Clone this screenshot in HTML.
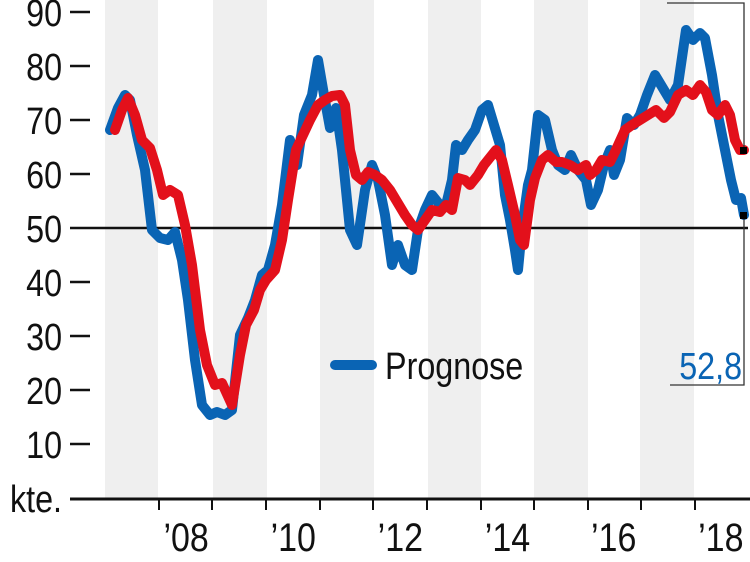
<!DOCTYPE html>
<html><head><meta charset="utf-8"><style>
html,body{margin:0;padding:0;background:#fff;}
svg{display:block;}
text{font-family:"Liberation Sans",sans-serif;fill:#111;}
</style></head><body>
<svg width="750" height="562" viewBox="0 0 750 562">
<g fill="#efefef">
<rect x="105" y="0" width="53" height="500"/>
<rect x="213" y="0" width="54" height="500"/>
<rect x="320" y="0" width="54" height="500"/>
<rect x="428" y="0" width="53" height="500"/>
<rect x="534" y="0" width="54" height="500"/>
<rect x="640" y="0" width="54" height="500"/>
</g>
<g font-size="38" text-anchor="end" transform="scale(0.85,1)">
<text x="73" y="26">90</text><text x="73" y="80">80</text><text x="73" y="134">70</text>
<text x="73" y="188">60</text><text x="73" y="242">50</text><text x="73" y="296">40</text>
<text x="73" y="350">30</text><text x="73" y="404">20</text><text x="73" y="458">10</text>
<text x="73" y="512">kte.</text>
</g>
<g stroke="#111" stroke-width="2.5">
<line x1="70" y1="12" x2="90" y2="12"/><line x1="70" y1="66" x2="90" y2="66"/>
<line x1="70" y1="120" x2="90" y2="120"/><line x1="70" y1="174" x2="90" y2="174"/>
<line x1="70" y1="282" x2="90" y2="282"/><line x1="70" y1="336" x2="90" y2="336"/>
<line x1="70" y1="390" x2="90" y2="390"/><line x1="70" y1="444" x2="90" y2="444"/>
<line x1="70" y1="228" x2="748" y2="228"/>
<line x1="70" y1="499" x2="750" y2="499" stroke-width="3"/>
</g>
<g stroke="#111" stroke-width="2">
<line x1="159" y1="499" x2="159" y2="510"/><line x1="212" y1="499" x2="212" y2="510"/>
<line x1="266" y1="499" x2="266" y2="510"/><line x1="320" y1="499" x2="320" y2="510"/>
<line x1="373" y1="499" x2="373" y2="510"/><line x1="427" y1="499" x2="427" y2="510"/>
<line x1="481" y1="499" x2="481" y2="510"/><line x1="534" y1="499" x2="534" y2="510"/>
<line x1="588" y1="499" x2="588" y2="510"/><line x1="641" y1="499" x2="641" y2="510"/>
<line x1="695" y1="499" x2="695" y2="510"/>
</g>
<g font-size="40" text-anchor="middle" transform="scale(0.85,1)">
<text x="219" y="551">’08</text><text x="345" y="551">’10</text><text x="471" y="551">’12</text>
<text x="597" y="551">’14</text><text x="722" y="551">’16</text><text x="848" y="551">’18</text>
</g>
<g fill="none" stroke-linejoin="round" stroke-linecap="round" stroke-width="10">
<polyline stroke="#0a64b4" points="110,130 118,108 125,95 130,100 137,135 145,170 152,230 160,238 168,240 175,232 182,260 188,300 195,360 202,405 210,415 217,412 225,415 232,410 240,335 248,318 255,300 262,275 268,270 275,245 282,205 290,140 297,165 304,115 312,95 318,60 324,95 330,128 336,108 342,150 350,230 357,245 365,190 372,165 378,180 385,215 392,265 398,245 405,265 412,270 418,230 425,210 432,195 440,205 446,205 452,180 456,145 462,150 468,140 475,130 482,110 488,105 494,125 500,145 505,195 510,220 515,250 518,270 522,228 528,185 532,170 538,115 545,120 552,150 558,165 565,170 571,155 578,170 586,180 591,205 598,190 604,165 610,150 614,175 620,160 627,118 634,125 640,115 647,95 655,75 664,90 670,100 678,85 686,30 693,40 700,33 705,38 712,75 718,115 725,150 731,180 736,200 741,198 744,215"/>
<polyline stroke="#e3101b" points="115,130 122,110 128,98 135,115 142,140 150,148 157,170 163,195 170,190 178,195 185,225 192,265 200,330 207,365 215,385 222,383 232,405 240,355 246,325 254,310 260,290 266,280 275,270 282,240 288,200 296,150 303,135 310,120 318,105 325,100 332,96 340,95 345,105 350,150 356,175 362,180 368,172 375,175 382,180 390,190 396,200 405,215 412,225 418,230 425,220 432,210 440,212 446,205 452,210 458,178 465,180 470,185 478,175 484,165 492,155 496,150 502,160 508,185 515,215 520,240 524,245 530,200 535,178 542,160 548,155 556,162 562,162 570,165 578,170 586,165 590,175 596,170 602,160 610,162 615,152 625,130 632,125 640,120 648,115 656,110 664,118 670,112 678,95 686,90 693,95 700,85 706,92 712,110 718,115 725,105 730,115 735,140 740,150 744,150"/>
<line x1="335" y1="365" x2="372" y2="365" stroke="#0a64b4"/>
</g>
<g stroke="#333" stroke-width="1.3" fill="none">
<polyline points="667,3 744,3 744,150"/>
<polyline points="744,215 744,385 670,385"/>
</g>
<rect x="740" y="147" width="7" height="7" fill="#000"/>
<rect x="740" y="212" width="7" height="7" fill="#000"/>
<text x="453" y="379" font-size="38" transform="scale(0.85,1)">Prognose</text>
<text x="873" y="379" font-size="38" text-anchor="end" style="fill:#0a64b4" transform="scale(0.85,1)">52,8</text>
</svg>
</body></html>
